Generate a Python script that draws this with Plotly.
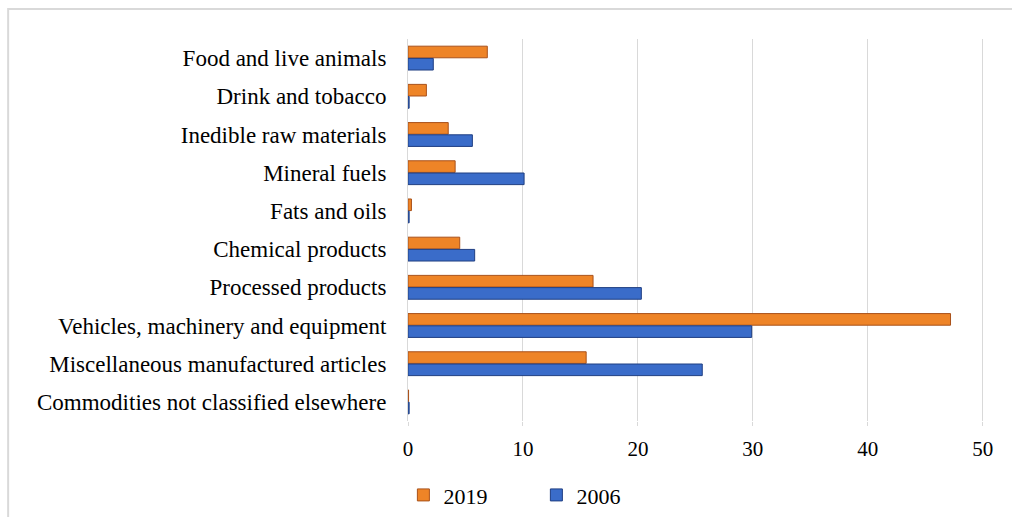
import plotly.graph_objects as go

categories = [
    "Food and live animals",
    "Drink and tobacco",
    "Inedible raw materials",
    "Mineral fuels",
    "Fats and oils",
    "Chemical products",
    "Processed products",
    "Vehicles, machinery and equipment",
    "Miscellaneous manufactured articles",
    "Commodities not classified elsewhere",
]
values_2019 = [6.9, 1.6, 3.5, 4.1, 0.3, 4.5, 16.1, 47.2, 15.5, 0.05]
values_2006 = [2.2, 0.1, 5.6, 10.1, 0.1, 5.8, 20.3, 29.9, 25.6, 0.1]
x_ticks = [0, 10, 20, 30, 40, 50]

FONT = "Liberation Serif"

fig = go.Figure()
fig.add_trace(go.Bar(
    y=categories, x=values_2019, orientation="h", name="2019",
    marker=dict(color="#EE8427", line=dict(color="#A9511A", width=1)),
))
fig.add_trace(go.Bar(
    y=categories, x=values_2006, orientation="h", name="2006",
    marker=dict(color="#3A6CC9", line=dict(color="#1F3E82", width=1)),
))

fig.update_layout(
    width=1012, height=517,
    margin=dict(l=408, r=27, t=39, b=96, autoexpand=False),
    paper_bgcolor="white", plot_bgcolor="white",
    barmode="group", bargap=0.36, bargroupgap=0.05,
    font=dict(family=FONT, size=22, color="black"),
    showlegend=True,
    legend=dict(
        orientation="h", x=-0.008, y=-0.194, xanchor="left", yanchor="middle",
        font=dict(family=FONT, size=22, color="black"),
        itemwidth=30, traceorder="normal", entrywidth=88,
    ),
    xaxis=dict(
        range=[0, 50.2], tickvals=x_ticks, showgrid=True, gridcolor="#D9D9D9",
        gridwidth=1, zeroline=False, showline=False,
        ticks="outside", ticklen=4, tickcolor="#D9D9D9",
        ticklabelstandoff=5, tickfont=dict(family=FONT, size=21),
        automargin=False,
    ),
    yaxis=dict(
        autorange="reversed", showgrid=False, zeroline=False,
        showline=True, linecolor="#D9D9D9", linewidth=1,
        ticks="", ticklabelstandoff=16,
        tickfont=dict(family=FONT, size=23), automargin=False,
    ),
    shapes=[dict(
        type="rect", xref="paper", yref="paper",
        x0=-0.693, x1=1.2, y0=-0.6, y1=1.0785,
        line=dict(color="#D9D9D9", width=2), fillcolor="rgba(0,0,0,0)", layer="below",
    )],
)

fig.write_html("out.html")
